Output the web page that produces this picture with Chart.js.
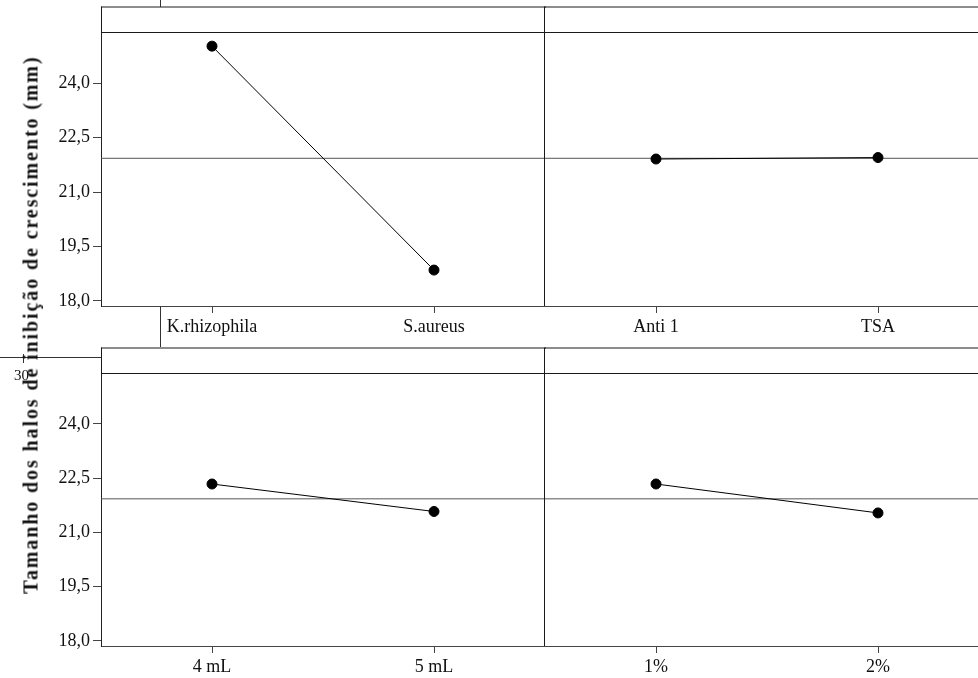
<!DOCTYPE html>
<html>
<head>
<meta charset="utf-8">
<script src="https://cdn.jsdelivr.net/npm/chart.js@4.4.0/dist/chart.umd.min.js"></script>
<style>
  html, body { margin:0; padding:0; background:#fff; }
  #wrap { position:relative; width:978px; height:678px; overflow:hidden; background:#fff; }
  canvas { position:absolute; }
  .ln { position:absolute; background:#333; }
  #ylabel { position:absolute; font-family:"Liberation Serif","Times New Roman",serif; font-weight:bold; font-size:20px;
            white-space:nowrap; color:#111; transform-origin:center center; }
  #stray { position:absolute; font-family:"Liberation Serif","Times New Roman",serif; font-size:15px; color:#111; }
</style>
</head>
<body>
<div id="wrap">
  <canvas id="c1" width="546" height="346" style="left:0;top:0"></canvas>
  <canvas id="c2" width="444" height="346" style="left:545px;top:0"></canvas>
  <canvas id="c3" width="546" height="332" style="left:0;top:346px"></canvas>
  <canvas id="c4" width="444" height="332" style="left:545px;top:346px"></canvas>
  <div class="ln" style="left:160px;top:0;width:1px;height:7px"></div>
  <div class="ln" style="left:160px;top:306px;width:1px;height:41px"></div>
  <div class="ln" style="left:0;top:357px;width:101px;height:1px"></div>
  <div class="ln" style="left:23px;top:354px;width:1px;height:9px"></div>
  <div id="stray" style="left:14px;top:367px">30</div>
  <div id="ylabel">Tamanho dos halos de inibição de crescimento (mm)</div>
</div>
<script>
// ---- data ----
const bacteriaLevels = ['K.rhizophila', 'S.aureus'];
const bacteriaMeans  = [25.02, 18.85];
const mediumLevels   = ['Anti 1', 'TSA'];
const mediumMeans    = [21.91, 21.95];
const volumeLevels   = ['4 mL', '5 mL'];
const volumeMeans    = [22.34, 21.58];
const concLevels     = ['1%', '2%'];
const concMeans      = [22.34, 21.54];
const grandMean      = 21.93;
const yTicks         = [18.0, 19.5, 21.0, 22.5, 24.0];
const yMin = 17.86, yMax = 25.41;

Chart.defaults.font.family = '"Liberation Serif","Times New Roman",serif';
Chart.defaults.font.size = 18;
Chart.defaults.color = '#111';

const framePlugin = {
  id: 'frame',
  afterDraw(chart, args, opts) {
    const ctx = chart.ctx, a = chart.chartArea;
    const hTop = a.top - opts.header;
    ctx.save();
    ctx.strokeStyle = '#1a1a1a';
    ctx.lineWidth = 1;
    ctx.beginPath();
    ctx.moveTo(a.left, hTop + 0.5); ctx.lineTo(a.right + 2, hTop + 0.5);
    ctx.moveTo(a.left, a.top + 0.5); ctx.lineTo(a.right + 2, a.top + 0.5);
    if (opts.isLeft) {
      ctx.moveTo(a.left + 0.5, hTop); ctx.lineTo(a.left + 0.5, a.top + 1);
      ctx.moveTo(a.right - 0.5, hTop); ctx.lineTo(a.right - 0.5, a.bottom);
    }
    ctx.stroke();
    ctx.restore();
  }
};

function makeChart(id, levels, means, isLeft, padTop, xHeight) {
  const ctx = document.getElementById(id);
  return new Chart(ctx, {
    type: 'line',
    data: {
      datasets: [
        {
          data: [{x: -0.5, y: grandMean}, {x: 1.5, y: grandMean}],
          borderColor: '#555', borderWidth: 1, pointRadius: 0, order: 2
        },
        {
          data: means.map((v, i) => ({x: i, y: v})),
          borderColor: '#000', borderWidth: 1, pointRadius: 5,
          pointBackgroundColor: '#000', pointBorderColor: '#000', order: 1
        }
      ]
    },
    options: {
      responsive: false, animation: false, devicePixelRatio: 1,
      layout: { autoPadding: false, padding: { top: padTop, left: 0, right: isLeft ? 1 : 0, bottom: 0 } },
      plugins: { legend: { display: false }, tooltip: { enabled: false },
                 frame: { header: 25.5, isLeft: isLeft } },
      scales: {
        x: {
          type: 'linear', min: -0.5, max: 1.5,
          afterBuildTicks: s => { s.ticks = levels.map((l, i) => ({value: i})); },
          afterFit: s => { s.height = xHeight; },
          ticks: { callback: (v) => levels[v], padding: 3, maxRotation: 0, autoSkip: false, color: '#111' },
          grid: { drawOnChartArea: false, drawTicks: true, tickLength: 7, color: '#444' },
          border: { display: true, color: '#444', width: 1 }
        },
        y: {
          display: isLeft,
          min: yMin, max: yMax,
          afterBuildTicks: s => { s.ticks = yTicks.map(v => ({value: v})); },
          afterFit: s => { s.width = isLeft ? 101 : 0; },
          ticks: { callback: v => v.toFixed(1).replace('.', ','), padding: 3, color: '#111' },
          grid: { drawOnChartArea: false, drawTicks: true, tickLength: 8, color: '#444' },
          border: { display: true, color: '#222', width: 1 }
        }
      }
    },
    plugins: [framePlugin]
  });
}

makeChart('c1', bacteriaLevels, bacteriaMeans, true, 32, 40);
makeChart('c2', mediumLevels, mediumMeans, false, 32, 40);
makeChart('c3', volumeLevels, volumeMeans, true, 27, 32);
makeChart('c4', concLevels, concMeans, false, 27, 32);

// y-axis title: spread letters to the span measured on the reference
const yl = document.getElementById('ylabel');
const targetLen = 538;
const nat = yl.getBoundingClientRect().width;
const n = yl.textContent.length;
yl.style.letterSpacing = ((targetLen - nat) / n) + 'px';
const w = yl.getBoundingClientRect().width, h = yl.getBoundingClientRect().height;
yl.style.left = (31 - w / 2) + 'px';
yl.style.top = (324 - h / 2) + 'px';
yl.style.transform = 'rotate(-90deg)';
</script>
</body>
</html>
